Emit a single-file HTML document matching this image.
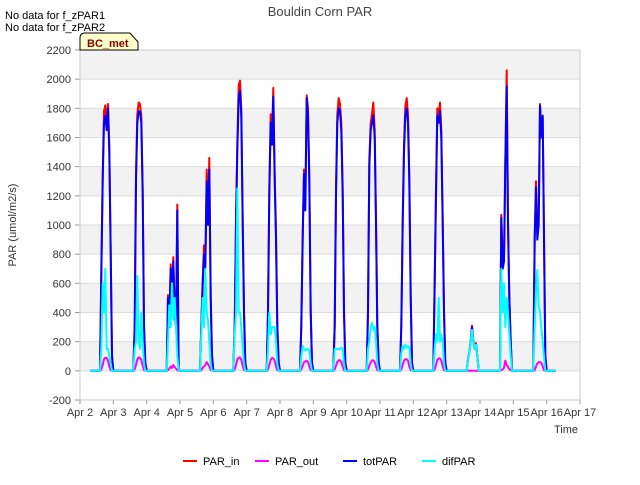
<!DOCTYPE html>
<html><head><meta charset="utf-8"><style>
body{margin:0;background:#fff;font-family:"Liberation Sans",sans-serif}
svg text{font-family:"Liberation Sans",sans-serif}
</style></head><body>
<svg id="c" width="640" height="480" xmlns="http://www.w3.org/2000/svg">
<rect width="640" height="480" fill="#fff"/>
<g id="bands"></g><g id="grid"></g><g id="series"></g><g id="axes"></g>
<text x="320" y="16" text-anchor="middle" font-size="13" fill="#444">Bouldin Corn PAR</text>
<text x="5" y="19" font-size="11" fill="#000">No data for f_zPAR1</text>
<text x="5" y="31" font-size="11" fill="#000">No data for f_zPAR2</text>
<g><path d="M80,50 L80,38 Q80,33 85,33 L130,33 L138,42 L138,50 Z" fill="#ffffcc" stroke="#000" stroke-width="1"/>
<text x="87" y="47" font-size="11" font-weight="bold" fill="#8b0000">BC_met</text></g>
<text x="16" y="225" font-size="11" fill="#333" transform="rotate(-90 16 225)" text-anchor="middle">PAR (umol/m2/s)</text>
<text x="578" y="433" font-size="11" fill="#333" text-anchor="end">Time</text>
<g id="legend"></g>
</svg>
<script>
const yTicks=[-200,0,200,400,600,800,1000,1200,1400,1600,1800,2000,2200];
const xTickLabels=["Apr 2","Apr 3","Apr 4","Apr 5","Apr 6","Apr 7","Apr 8","Apr 9","Apr 10","Apr 11","Apr 12","Apr 13","Apr 14","Apr 15","Apr 16","Apr 17"];
const dayFracs=[0.60,0.64,0.68,0.72,0.76,0.80,0.84,0.88,0.92,0.96,1.00];
const totPAR=[
[0,650,1300,1700,1750,1650,1800,1500,800,100,0],
[0,300,1300,1700,1780,1780,1700,1200,300,50,0],
[0,500,300,700,500,750,400,300,1100,0,0],
[0,300,600,800,700,1300,1000,1380,500,100,0],
[0,300,1000,1500,1880,1920,1750,1000,400,50,0],
[0,400,1200,1700,1550,1880,1300,900,300,50,0],
[0,300,900,1350,1100,1870,1750,1300,400,50,0],
[0,300,1200,1700,1800,1780,1650,1200,400,50,0],
[0,400,1400,1650,1700,1750,1600,1000,300,50,0],
[0,300,1000,1500,1750,1800,1700,1300,500,50,0],
[0,600,1200,1750,1700,1780,1600,1000,400,50,0],
[0,80,120,200,300,200,150,180,100,0,0],
[0,1050,700,750,1400,1950,1000,500,200,0,0],
[0,900,1260,900,1000,1820,1600,1750,900,100,0]];
const parIn=[
[0,680,1350,1780,1820,1700,1830,1550,830,110,0],
[0,320,1350,1760,1840,1830,1750,1250,320,60,0],
[0,520,320,730,520,780,420,320,1140,0,0],
[0,320,620,860,730,1380,1050,1460,520,110,0],
[0,320,1050,1560,1960,1990,1800,1050,420,60,0],
[0,420,1250,1760,1600,1940,1350,950,320,60,0],
[0,320,950,1380,1150,1890,1800,1350,420,60,0],
[0,320,1250,1760,1870,1830,1700,1250,420,60,0],
[0,420,1450,1700,1760,1840,1650,1050,320,60,0],
[0,320,1050,1550,1810,1870,1760,1350,520,60,0],
[0,630,1250,1800,1760,1840,1650,1050,420,60,0],
[0,85,125,210,310,210,160,190,110,0,0],
[0,1070,750,770,1450,2060,1050,520,210,0,0],
[0,930,1300,950,1050,1830,1650,1740,950,110,0]];
const parOut=[
[0,10,40,80,90,88,70,30,5,0,0],
[0,10,40,80,92,90,75,35,5,0,0],
[0,5,15,30,20,40,25,15,5,0,0],
[0,5,20,30,40,60,45,30,5,0,0],
[0,10,40,80,90,92,75,35,5,0,0],
[0,10,40,75,88,85,70,30,5,0,0],
[0,10,35,60,65,70,60,30,5,0,0],
[0,10,35,60,72,72,62,30,5,0,0],
[0,10,35,60,70,72,60,30,5,0,0],
[0,10,40,70,80,80,70,30,5,0,0],
[0,10,40,75,85,85,70,30,5,0,0],
[0,0,0,0,0,0,0,0,0,0,0],
[0,5,10,20,70,40,30,10,5,0,0],
[0,5,30,50,60,60,55,30,5,0,0]];
const difPAR=[
[0,150,600,400,700,150,150,100,50,0,0],
[0,150,200,650,200,150,400,200,50,0,0],
[0,200,450,300,600,350,500,300,100,0,0],
[0,250,500,300,700,400,350,200,50,0,0],
[0,250,400,1250,400,400,300,150,50,0,0],
[0,150,400,250,300,300,300,200,50,0,0],
[0,100,170,150,140,150,150,140,50,0,0],
[0,150,150,150,150,150,160,150,50,0,0],
[0,150,200,300,330,280,300,200,50,0,0],
[0,120,170,150,180,160,170,160,50,0,0],
[0,150,250,200,500,200,250,200,50,0,0],
[0,80,120,200,280,200,150,180,100,0,0],
[0,700,400,600,300,500,400,250,100,0,0],
[0,300,550,690,450,400,300,200,100,0,0]];
const startDay=0.3, endDay=14.28;

const NS="http://www.w3.org/2000/svg";
const L=80,R=580,T=50,B=400,yMin=-200,yMax=2200;
const X=d=>L+(R-L)*d/15;
const Y=v=>B-(B-T)*(v-yMin)/(yMax-yMin);
function mk(tag,attrs,parent){const e=document.createElementNS(NS,tag);for(const k in attrs)e.setAttribute(k,attrs[k]);document.getElementById(parent).appendChild(e);return e;}

for(let i=0;i<yTicks.length-1;i++){
  if(i%2===1){const r=mk('rect',{x:L,y:Y(yTicks[i+1]),width:R-L,height:Y(yTicks[i])-Y(yTicks[i+1]),fill:'#f2f2f2'},'bands');
  
  }
}
yTicks.forEach(v=>{
  const l=mk('line',{x1:L,x2:R,y1:Y(v),y2:Y(v),stroke:'#dcdcdc','stroke-width':1},'grid');
  
  
  const t=mk('text',{x:L-9,y:Y(v)+4,'text-anchor':'end','font-size':11,fill:'#333'},'axes');t.textContent=v;
  
  
  const k=mk('line',{x1:L-5,x2:L,y1:Y(v),y2:Y(v),stroke:'#999'},'axes');
  
  
});
xTickLabels.forEach((s,i)=>{
  const t=mk('text',{x:X(i),y:B+16,'text-anchor':'middle','font-size':11,fill:'#333'},'axes');t.textContent=s;
  
  
  const k=mk('line',{x1:X(i),x2:X(i),y1:B,y2:B+4,stroke:'#999'},'axes');
  
  
});
const frame=mk('rect',{x:L,y:T,width:R-L,height:B-T,fill:'none',stroke:'#ccc'},'axes');



function pathFor(arr){
  let pts=[[X(startDay),Y(0)]];
  arr.forEach((day,di)=>{day.forEach((v,j)=>{pts.push([X(di+dayFracs[j]),Y(v)]);});});
  pts.push([X(endDay),Y(0)]);
  return 'M'+pts.map(p=>p[0].toFixed(1)+','+p[1].toFixed(1)).join('L');
}
const series=[['PAR_in',parIn,'#ff0000','series-par-in'],['PAR_out',parOut,'#ff00ff','series-par-out'],['totPAR',totPAR,'#0000ff','series-totpar'],['difPAR',difPAR,'#00ffff','series-difpar']];
series.forEach(s=>{
  const p=mk('path',{d:pathFor(s[1]),fill:'none',stroke:s[2],'stroke-width':2,'stroke-linejoin':'round'},'series');
  
  
});
const legX=[183,255,343,422];
series.forEach((s,i)=>{
  const l=mk('line',{x1:legX[i],x2:legX[i]+14,y1:461,y2:461,stroke:s[2],'stroke-width':2},'legend');
  
  
  const t=mk('text',{x:legX[i]+20,y:465,'font-size':11,fill:'#000'},'legend');t.textContent=s[0];
  
  
});
</script>
</body></html>
